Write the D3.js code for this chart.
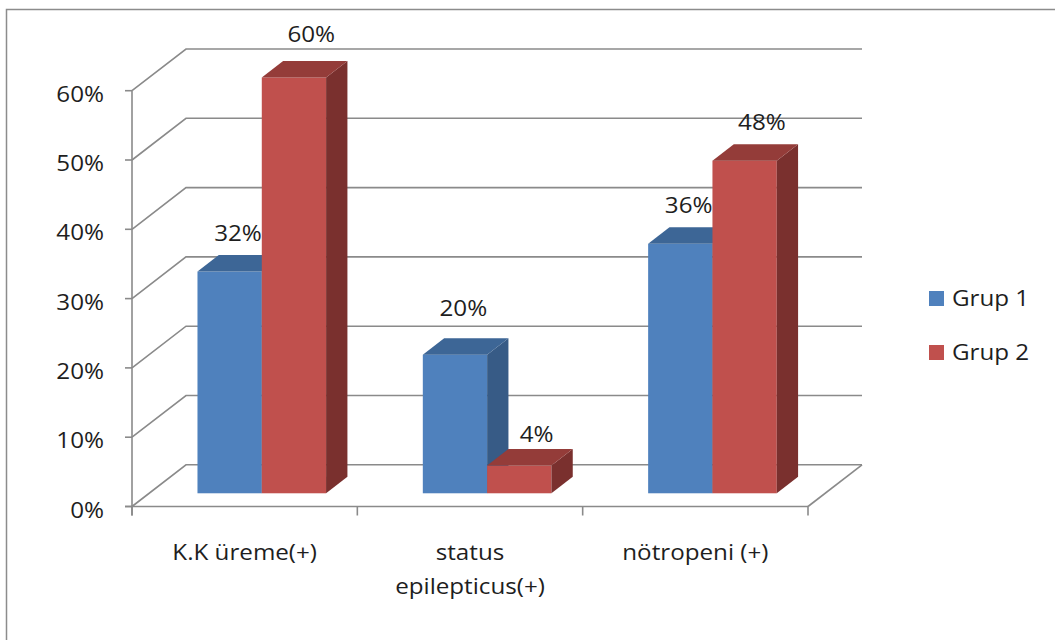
<!DOCTYPE html>
<html>
<head>
<meta charset="utf-8">
<script src="https://cdn.jsdelivr.net/npm/d3@7"></script>
<style>
  html, body { margin: 0; padding: 0; background: #fff; }
  svg { display: block; }
  text { font-family: "Open Sans", "Liberation Sans", sans-serif; fill: #1e1e1e; }
</style>
</head>
<body>
<svg id="chart" width="1055" height="640"></svg>
<script>
// Categories, series and values (shares)
const categories = ["K.K üreme(+)", "status\nepilepticus(+)", "nötropeni (+)"];
const seriesNames = ["Grup 1", "Grup 2"];
const grup1 = [0.32, 0.20, 0.36];
const grup2 = [0.60, 0.04, 0.48];
const yTicks = [0, 0.1, 0.2, 0.3, 0.4, 0.5, 0.6];

const seriesValues = [grup1, grup2];
const colors = {
  "Grup 1": { front: "#4f81bd", side: "#375b86", top: "#3d6696" },
  "Grup 2": { front: "#c0504d", side: "#7a302e", top: "#943c39" }
};

const svg = d3.select("#chart");
const FS = 22, SX = 1.1;   // font size and horizontal stretch for the labels
const gridColor = "#8a8a8a";

// Outer frame
svg.append("rect")
  .attr("x", 6.5).attr("y", 9.5).attr("width", 1100).attr("height", 700)
  .attr("fill", "none").attr("stroke", "#8c8c8c").attr("stroke-width", 1.5);

// Front-plane scales
const x0 = d3.scaleBand().domain(d3.range(categories.length)).range([132, 808]).padding(0);
const y = d3.scaleLinear().domain([0, 0.6]).range([506.5, 90.7]);
const x1 = d3.scaleBand().domain(seriesNames).range([0, x0.bandwidth()]).paddingInner(0).paddingOuter(0.752);

// Depth of the floor (back wall offset) and of the bars
const depth = { dx: 54, dy: -41.7 };
const barStart = 0.317;   // fraction of floor depth where bars begin
const barDepth = 0.395;   // fraction of floor depth the bars occupy
const bx = depth.dx * barStart, by = depth.dy * barStart;
const bdx = depth.dx * barDepth, bdy = depth.dy * barDepth;

const backRight = 808 + depth.dx;

// Side wall + back wall gridlines
const grid = svg.append("g").attr("fill", "none").attr("stroke", gridColor).attr("stroke-width", 1.6);
yTicks.forEach(v => {
  const yf = y(v);
  grid.append("polyline")
    .attr("points", [[132, yf], [132 + depth.dx, yf + depth.dy], [backRight, yf + depth.dy]].map(p => p.join(",")).join(" "));
});
// Floor right edge
grid.append("line")
  .attr("x1", 808).attr("y1", y(0)).attr("x2", backRight).attr("y2", y(0) + depth.dy);

// Axes
const axes = svg.append("g").attr("stroke", gridColor).attr("stroke-width", 1.6);
axes.append("line").attr("x1", 132).attr("x2", 132).attr("y1", y(0.6)).attr("y2", y(0) + 9);
axes.append("line").attr("x1", 125).attr("x2", 808).attr("y1", y(0)).attr("y2", y(0));
yTicks.forEach(v => {
  axes.append("line").attr("x1", 125).attr("x2", 132).attr("y1", y(v)).attr("y2", y(v));
});
d3.range(categories.length + 1).forEach(i => {
  const xv = i < categories.length ? x0(i) : x0(categories.length - 1) + x0.bandwidth();
  axes.append("line").attr("x1", xv).attr("x2", xv).attr("y1", y(0)).attr("y2", y(0) + 9);
});

// Text helper with horizontal stretch
function label(g, str, xPos, yPos, anchor) {
  return g.append("text")
    .attr("transform", `translate(${xPos},${yPos}) scale(${SX},1)`)
    .attr("text-anchor", anchor || "middle")
    .attr("font-size", FS)
    .text(str);
}

// Y tick labels
const tickG = svg.append("g");
yTicks.forEach(v => label(tickG, d3.format(".0%")(v), 104, y(v) + 11, "end"));

// Value label placement: horizontal shift per series, small vertical tweaks per bar
const labelShiftX = { "Grup 1": 8.4, "Grup 2": 17.3 };
const labelLift = { "Grup 1": [0, -8, 0], "Grup 2": [-5, 7, 0] };

// Bars (drawn per category, series left to right)
const pts = a => a.map(p => p.join(",")).join(" ");
const barsG = svg.append("g");
const labelData = [];
categories.forEach((c, ci) => {
  seriesNames.forEach((s, si) => {
    const v = seriesValues[si][ci];
    const xl = x0(ci) + x1(s) + bx;
    const xr = xl + x1.bandwidth();
    const yb = y(0) + by;
    const yt = y(v) + by;
    const col = colors[s];
    barsG.append("rect")
      .attr("x", xl).attr("y", yt).attr("width", xr - xl).attr("height", yb - yt)
      .attr("fill", col.front);
    barsG.append("polygon")
      .attr("points", pts([[xr, yb], [xr + bdx, yb + bdy], [xr + bdx, yt + bdy], [xr, yt]]))
      .attr("fill", col.side);
    barsG.append("polygon")
      .attr("points", pts([[xl, yt], [xl + bdx, yt + bdy], [xr + bdx, yt + bdy], [xr, yt]]))
      .attr("fill", col.top);
    labelData.push({
      v,
      x: (xl + xr) / 2 + labelShiftX[s],
      y: yt + bdy - 14 + labelLift[s][ci]
    });
  });
});

// Value labels
const valG = svg.append("g");
labelData.forEach(d => label(valG, d3.format(".0%")(d.v), d.x, d.y));

// Category labels
const catG = svg.append("g");
categories.forEach((c, ci) => {
  const cx = x0(ci) + x0.bandwidth() / 2;
  c.split("\n").forEach((line, li) => label(catG, line, cx, 560 + li * 34));
});

// Legend
const legG = svg.append("g");
seriesNames.forEach((s, i) => {
  const ly = 291 + i * 54;
  legG.append("rect").attr("x", 929).attr("y", ly).attr("width", 15).attr("height", 15)
    .attr("fill", colors[s].front);
  label(legG, s, 952, ly + 15, "start");
});
</script>
</body>
</html>
